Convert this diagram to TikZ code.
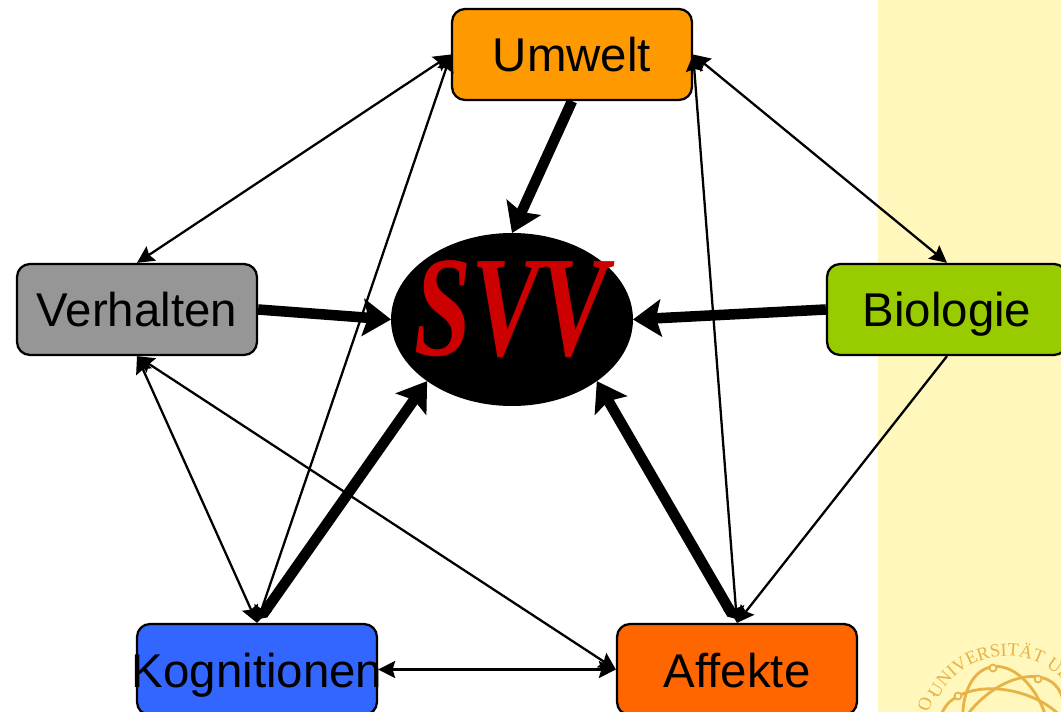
\documentclass[tikz,border=0pt]{standalone}
\usepackage{fontspec}
\setmainfont{Liberation Sans}
\newfontfamily\svvfont{Liberation Serif}
\usetikzlibrary{arrows.meta,shapes.geometric,decorations.text}
\definecolor{umweltcol}{HTML}{FF9900}
\definecolor{verhaltencol}{HTML}{969696}
\definecolor{biologiecol}{HTML}{99CC00}
\definecolor{kognitioncol}{HTML}{3366FF}
\definecolor{affektecol}{HTML}{FF6600}
\definecolor{svvred}{HTML}{CC0000}
\definecolor{sidecol}{HTML}{FFF7BC}
\definecolor{sealcol}{HTML}{E9B246}

\begin{document}
\begin{tikzpicture}[x=0.02cm,y=0.02cm]
\tikzstyle{factor}=[draw=black,line width=1.3pt,rounded corners=0.26cm,minimum width=4.8cm,minimum height=1.82cm,inner sep=0pt,text height=0.7cm,text depth=0pt,font=\fontsize{27}{30}\selectfont]
\tikzstyle{thin link}=[line width=1.3pt,{Stealth[length=0.34cm,width=0.34cm,inset=0.05cm]}-{Stealth[length=0.34cm,width=0.34cm,inset=0.05cm]}]
\tikzstyle{thick link}=[line width=6pt,-{Stealth[length=0.56cm,width=0.74cm,inset=0.1cm]}]
\tikzstyle{thick tail}=[thick link,{Triangle Cap}-{Stealth[length=0.56cm,width=0.74cm,inset=0.1cm]},shorten <=0.1cm]
\tikzstyle{seal}=[draw=sealcol,line width=1.6pt]
\path[use as bounding box,clip] (0,0) rectangle (1061,-712);
\fill [sidecol] (878,0) rectangle (1061,-712);
% seal
\draw [seal,rotate around={15:(1007,-733)}] (1007,-733) ellipse [x radius=42,y radius=68];
\draw [seal,rotate around={75:(1007,-733)}] (1007,-733) ellipse [x radius=42,y radius=68];
\draw [seal,rotate around={-45:(1007,-733)}] (1007,-733) ellipse [x radius=42,y radius=68];
\draw [seal,line width=1pt,fill=sidecol] (993,-668) circle (3.5);
\draw [seal,line width=1pt,fill=sidecol] (1038,-679) circle (3.5);
\draw [seal,line width=1pt,fill=sidecol] (958,-696) circle (3.5);
\path [decorate,decoration={text along path,text color=sealcol,text align=left,text={|\svvfont\fontsize{10.5}{12}\selectfont|UNIVERSITÄT UL}}] (1007,-733) ++(154:77) arc (154:20:77);
\node [text=sealcol,rotate=70,font=\svvfont\fontsize{10.5}{12}\selectfont] (sealo) at (925,-704) {O};
\node [text=sealcol,font=\svvfont\fontsize{10.5}{12}\selectfont] (sealdot) at (934,-696) {.};
% nodes
\node [factor,fill=umweltcol] (umwelt) at (572,-54.5) {Umwelt};
\node [factor,fill=verhaltencol] (verhalten) at (137,-309.5) {Verhalten};
\node [factor,fill=biologiecol] (biologie) at (947,-309.5) {Biologie};
\node [factor,fill=kognitioncol] (kognitionen) at (257,-669.5) {\makebox[0pt]{Kognitionen}};
\node [factor,fill=affektecol] (affekte) at (737,-669.5) {Affekte};
\node [ellipse,fill=black,minimum width=4.84cm,minimum height=3.46cm,inner sep=0pt,outer sep=0pt] (svv) at (512,-319.5) {};
\node [text=svvred,inner sep=0pt] (svvtext) at (511,-309) {\scalebox{0.73}[1.02]{\svvfont\bfseries\itshape\fontsize{80}{80}\selectfont SVV}};
% thin connectors
\draw [thin link] (umwelt.west) -- (verhalten.north);
\draw [thin link] (umwelt.west) -- (kognitionen.north);
\draw [thin link] (umwelt.east) -- (biologie.north);
\draw [thin link] (umwelt.east) -- (affekte.north);
\draw [line width=1.3pt,-{Stealth[length=0.34cm,width=0.34cm,inset=0.05cm]}] (biologie.south) -- (affekte.north);
\draw [thin link] (verhalten.south) -- (kognitionen.north);
\draw [thin link] (verhalten.south) -- (affekte.west);
\draw [thin link] (kognitionen.east) -- (affekte.west);
% thick connectors
\draw [thick link] (umwelt.south) -- (svv.north);
\draw [thick link] (verhalten.east) -- (svv.west);
\draw [thick link] (biologie.west) -- (svv.east);
\draw [thick tail] (kognitionen.north) -- (svv.216);
\draw [thick tail] (affekte.north) -- (svv.324);
\end{tikzpicture}
\end{document}
